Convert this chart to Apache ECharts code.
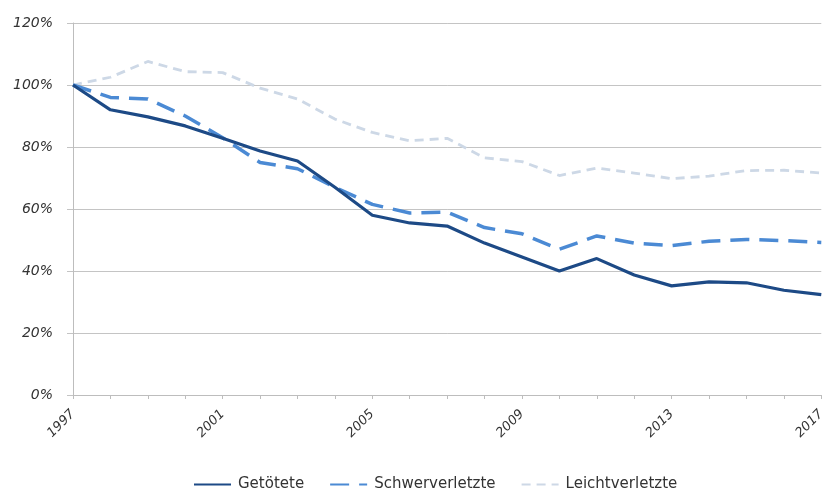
<!DOCTYPE html>
<html><head><meta charset="utf-8">
<script src="https://cdn.jsdelivr.net/npm/echarts@6/dist/echarts.min.js"></script>
<style>html,body{margin:0;padding:0;background:#fff;overflow:hidden}#c{width:828px;height:493px}</style>
</head><body><div id="c"></div>
<script>
const years = ['1997','1998','1999','2000','2001','2002','2003','2004','2005','2006','2007','2008','2009','2010','2011','2012','2013','2014','2015','2016','2017'];
const getoetete = [100,92,89.7,86.8,82.8,78.7,75.5,67,58,55.5,54.5,49,44.5,40,44,38.7,35.2,36.5,36.2,33.8,32.4];
const schwerverletzte = [100,96,95.5,90,83,75,73,67,61.5,58.7,59,54,52,47,51.3,49,48.2,49.6,50.2,49.8,49.2];
const leichtverletzte = [100,102.5,107.6,104.3,104,99,95.5,89,84.7,82,82.8,76.5,75.3,70.8,73.2,71.6,69.8,70.6,72.4,72.5,71.6];
const yTicks = [0,20,40,60,80,100,120];

const chart = echarts.init(document.getElementById('c'));
const txt = {color:'#333', fontFamily:'DejaVu Sans', fontSize:14, fontStyle:'italic'};
chart.setOption({
  animation:false,
  grid:{left:73,right:1,top:23,bottom:98},
  legend:{
    top:472, left:188, itemGap:25, itemWidth:37, itemHeight:12,
    itemStyle:{opacity:0},
    textStyle:{color:'#333', fontFamily:'DejaVu Sans', fontSize:15, padding:[0,0,0,2]},
    data:['Getötete','Schwerverletzte','Leichtverletzte']
  },
  xAxis:{
    type:'category', data:years, boundaryGap:false,
    axisLine:{lineStyle:{color:'#bdbdbd',width:1}},
    axisTick:{show:true,interval:0,length:4,lineStyle:{color:'#bdbdbd'}},
    axisLabel:Object.assign({},txt,{interval:3,rotate:45,margin:17,fontSize:13})
  },
  yAxis:{
    type:'value', min:yTicks[0], max:yTicks[yTicks.length-1], interval:20,
    axisLine:{show:true,lineStyle:{color:'#bdbdbd'}},
    axisTick:{show:true,length:6,lineStyle:{color:'#c4c4c4'}},
    splitLine:{lineStyle:{color:'#c4c4c4',width:1}},
    axisLabel:Object.assign({formatter:'{value}%',margin:20},txt)
  },
  series:[
    {name:'Getötete',type:'line',data:getoetete,symbol:'none',smooth:false,
     lineStyle:{color:'#1d4a86',width:3.2},itemStyle:{color:'#1d4a86'},z:5},
    {name:'Schwerverletzte',type:'line',data:schwerverletzte,symbol:'none',
     lineStyle:{color:'#4b8ad4',width:3.5,type:[19,10]},itemStyle:{color:'#4b8ad4'},z:4},
    {name:'Leichtverletzte',type:'line',data:leichtverletzte,symbol:'none',
     lineStyle:{color:'#cdd8e6',width:2.8,type:[9,6]},itemStyle:{color:'#cdd8e6'},z:3}
  ]
});
</script></body></html>
